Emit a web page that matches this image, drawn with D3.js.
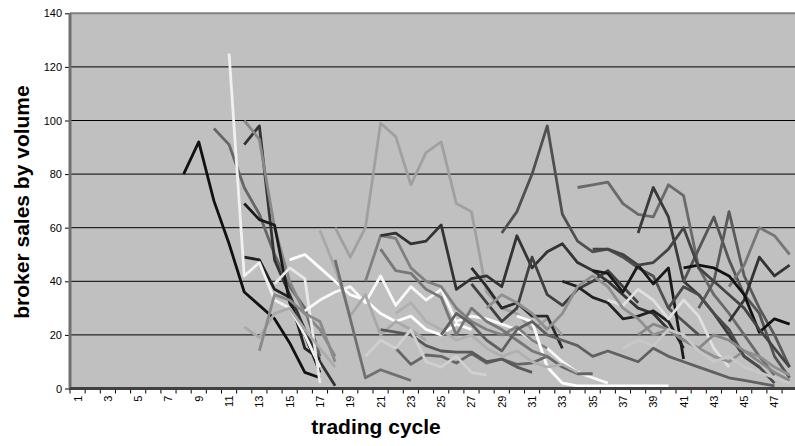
<!DOCTYPE html>
<html><head><meta charset="utf-8">
<script src="https://cdn.jsdelivr.net/npm/d3@7"></script>
<style>body{margin:0;background:#fff}svg{display:block}text{font-family:Arial,"Liberation Sans",sans-serif}</style>
</head><body><svg id="c" width="795" height="446"></svg>
<script>
const cycles = d3.range(1, 49);
const yTicks = [0, 20, 40, 60, 80, 100, 120, 140];
const xTickLabels = cycles.filter(c => c % 2 === 1);
// first trading cycle of each broker series
const seriesStart = [8,10,12,12,12,12,11,15,14,16,17,18,18,20,21,27,27,29,34,38,41,42,44,44,41,35,33,36,30,22,21,21,35,22,20,28,40,38,37,25,12,13];
// sales volume per cycle, starting at seriesStart
const seriesValues = [
 [80,92,70,54,36,31,26,17,6,4],
 [97,91,75,65,50,38,30,12],
 [91,98,48,35,22,10,1],
 [100,93,60,40,28,22,12],
 [49,48,37,34,15,11],
 [69,63,61,32,20,6],
 [125,42,47,33,30,20,8],
 [48,50,45,40,35,33,28,25,27,22,20,24,22],
 [39,45,41,2],
 [29,33,36,38,32,42,31,38,33,37,25,27,26,24,22,18,15,10,6,4,2],
 [59,45,27,35,20,25,22,18],
 [60,49,60,99,94,76,88,92,69,66,36,30,28,22,26,20],
 [48,26,4,7,5,3],
 [40,57,56,45,40,38,30,25,22,20,23,18,15],
 [57,58,54,55,61,37,41,42,38,57,45,51,54,47,44,40,35,30,28,22],
 [45,38,30,32,27,27,15],
 [39,32,25,30,49,35,31,37,40,44,38,32],
 [58,66,80,98,65,55,51,52,49,45,42,30,25,20],
 [75,76,77,69,65,64,76,72,45,35,28,20,12,5],
 [58,75,64,40,35,28,20,12,8],
 [40,52,64,48,35,28,12,4],
 [30,40,66,42,30,20,8],
 [38,46,60,57,50],
 [25,33,49,42,46],
 [45,46,45,42,35,21,26,24],
 [44,43,36,46,39,45,11],
 [40,38,34,32,26,27,29,25,15],
 [33,31,37,33,26,33,27,15,8],
 [27,25,8,2,1,1,1,1,1,1,1],
 [15,9,12.5,12,9.5,13,9.5,11,9,9.5,12,8,5.5,5.5],
 [22,21,20,16,14,13.6,13.6,10,11,8,6],
 [52,44,43,37,34,20,30,25,22,18,14,12],
 [52,52,50,46,47,52,60,45,40,35,30,22,15,8],
 [28,32,25,22,18,20,15,12,14,10,8,9,6],
 [12,18,15,22,10,8,12,6,5],
 [30,35,32,28,22,28,38,42,38,30,26,20,22,18,15,12,10,14,12,8,5],
 [30,38,35,28,22,12,8,2],
 [20,24,22,18,15,20,18,14,10,6,3],
 [15,18,16,22,20,14,10,12,8,6,4,2],
 [20,28,24,18,14,22,25,20,18,16,12,14,12,10,15,12,10,8,6,4,3,2,1],
 [23,19,28,30,22,15,8],
 [14,35,33,28,25,10]
];
const seriesColors = ["#111","#666","#333","#888","#222","#1a1a1a","#f0f0f0","#fff","#e8e8e8","#f8f8f8","#a8a8a8","#a0a0a0","#707070","#808080","#333","#2a2a2a","#404040","#505050","#6a6a6a","#3a3a3a","#555","#5a5a5a","#777","#333","#111","#1a1a1a","#222","#e0e0e0","#fff","#666","#595959","#777","#444","#b0b0b0","#d0d0d0","#909090","#4a4a4a","#888","#c8c8c8","#606060","#aaa","#8a8a8a"];

const svg = d3.select("#c");
const pLeft = 70, pTop = 13.3, pBottom = 388.5, step = 15.15;
const x = d3.scaleBand().domain(cycles).range([pLeft, pLeft + step * cycles.length]).paddingInner(0).paddingOuter(0);
const y = d3.scaleLinear().domain([0, 140]).range([pBottom, pTop]);
const pRight = pLeft + step * cycles.length;

svg.append("rect").attr("x", pLeft).attr("y", pTop).attr("width", pRight - pLeft).attr("height", pBottom - pTop).attr("fill", "#c0c0c0");
svg.append("g").selectAll("line").data(yTicks.filter(t => t > 0 && t < 140)).join("line")
  .attr("x1", pLeft).attr("x2", pRight).attr("y1", d => y(d)).attr("y2", d => y(d))
  .attr("stroke", "#000").attr("stroke-width", 1);
svg.append("line").attr("x1", pLeft).attr("x2", pRight).attr("y1", y(140)).attr("y2", y(140)).attr("stroke", "#808080").attr("stroke-width", 2);

const line = d3.line().x(d => x(d.c) + x.bandwidth() / 2).y(d => y(d.v));
const seriesData = seriesValues.map((vals, i) => vals.map((v, j) => ({c: seriesStart[i] + j, v})));
svg.append("g").selectAll("path").data(seriesData).join("path")
  .attr("d", line).attr("fill", "none")
  .attr("stroke", (d, i) => seriesColors[i]).attr("stroke-width", 2.8)
  .attr("stroke-linejoin", "round");

const yAxis = svg.append("g").attr("transform", `translate(${pLeft},0)`)
  .call(d3.axisLeft(y).tickValues(yTicks).tickSize(5).tickPadding(3));
yAxis.select(".domain").remove();
yAxis.selectAll("text").attr("font-size", 11).attr("fill", "#000").attr("font-family", "Arial, 'Liberation Sans', sans-serif");
yAxis.selectAll(".tick line").attr("stroke", "#000");
svg.append("line").attr("x1", pLeft).attr("x2", pLeft).attr("y1", pTop).attr("y2", pBottom + 1).attr("stroke", "#707070").attr("stroke-width", 3);

const xAxis = svg.append("g").attr("transform", `translate(0,${pBottom})`)
  .call(d3.axisBottom(x).tickValues(xTickLabels).tickSize(0).tickPadding(0));
xAxis.select(".domain").remove();
xAxis.selectAll(".tick text")
  .attr("transform", "translate(4,7) rotate(-90)")
  .attr("text-anchor", "end").attr("dy", 0).attr("y", 0).attr("x", 0)
  .attr("font-size", 11).attr("fill", "#000").attr("font-family", "Arial, 'Liberation Sans', sans-serif");
svg.append("g").selectAll("line").data(d3.range(cycles.length + 1)).join("line")
  .attr("x1", i => pLeft + i * step).attr("x2", i => pLeft + i * step)
  .attr("y1", pBottom).attr("y2", pBottom + 5).attr("stroke", "#000");
svg.append("line").attr("x1", pLeft).attr("x2", pRight).attr("y1", pBottom).attr("y2", pBottom).attr("stroke", "#404040").attr("stroke-width", 3);

svg.append("text").attr("x", 376).attr("y", 434).attr("text-anchor", "middle")
  .attr("font-size", 21).attr("font-weight", "bold").text("trading cycle");
svg.append("text").attr("transform", "translate(29,202) rotate(-90)").attr("text-anchor", "middle")
  .attr("font-size", 21).attr("font-weight", "bold").text("broker sales by volume");
</script></body></html>
